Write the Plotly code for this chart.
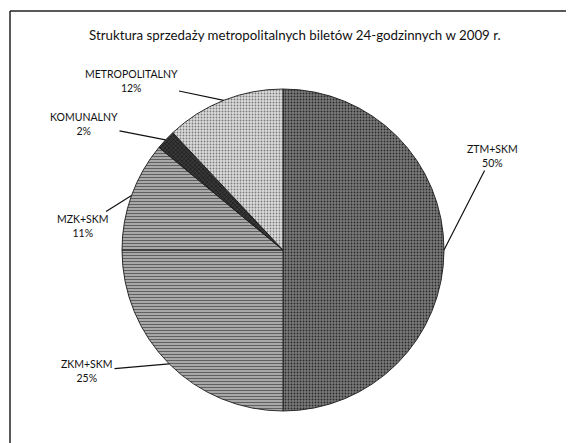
import numpy as np
import plotly.graph_objects as go

# dane z wykresu
labels = ['ZTM+SKM', 'ZKM+SKM', 'MZK+SKM', 'KOMUNALNY', 'METROPOLITALNY']
shares = [50, 25, 11, 2, 12]
colors = ['#7a7a7a', '#a8a8a8', '#a8a8a8', '#383838', '#dcdcdc']
dots = ['#2a2a2a', '#585858', '#585858', '#0e0e0e', '#7a7a7a']
fills = ['.', '-', '-', 'x', '.']

OFF = 8  # margines strony w przegladarce
W, H = 574 - OFF, 443 - OFF
# polozenie kola (piksele)
cx, cy, r = 283 - OFF, 250 - OFF, 161

# pozycje etykiet (srodek tekstu, piksele)
label_pos = {
    'ZTM+SKM': (492, 156),
    'ZKM+SKM': (87, 371),
    'MZK+SKM': (83, 226),
    'KOMUNALNY': (84, 124),
    'METROPOLITALNY': (131, 81),
}

fig = go.Figure(go.Pie(
    labels=labels,
    values=shares,
    sort=False,
    direction='clockwise',
    rotation=0,
    textinfo='none',
    hoverinfo='label+percent',
    showlegend=False,
    domain=dict(x=[(cx - r) / W, (cx + r) / W], y=[1 - (cy + r) / H, 1 - (cy - r) / H]),
    marker=dict(
        colors=colors,
        line=dict(color='#1a1a1a', width=0.9),
        pattern=dict(shape=fills, fgcolor=dots, bgcolor=colors, size=3, solidity=0.3),
    ),
))

# etykiety z liniami odniesienia, liczone z udzialow
total = sum(shares)
cum = 0
annotations = []
for lab, v in zip(labels, shares):
    mid = (cum + v / 2) / total * 2 * np.pi
    cum += v
    px_ = cx + r * np.sin(mid)
    py_ = cy - r * np.cos(mid)
    tx, ty = label_pos[lab]
    tx, ty = tx - OFF, ty - OFF
    annotations.append(dict(
        x=px_ / W, y=1 - py_ / H, xref='paper', yref='paper',
        ax=tx - px_, ay=ty - py_, axref='pixel', ayref='pixel',
        text=f'{lab}<br>{round(v / total * 100)}%',
        showarrow=True, arrowhead=0, arrowwidth=1.2, arrowcolor='#111111',
        font=dict(family='Lato, Open Sans, sans-serif', size=10.5, color='#111111'),
        align='center',
    ))

annotations.append(dict(
    x=(295 - OFF) / W, y=1 - (25 - OFF) / H, xref='paper', yref='paper', showarrow=False,
    text='Struktura sprzedaży metropolitalnych biletów 24-godzinnych w 2009 r.',
    font=dict(family='Lato, Open Sans, sans-serif', size=13.3, color='#111111'),
))

fig.update_layout(
    width=W, height=H,
    margin=dict(l=0, r=0, t=0, b=0),
    paper_bgcolor='white',
    annotations=annotations,
    shapes=[
        dict(type='line', xref='paper', yref='paper', x0=(10 - OFF) / W, x1=1,
             y0=1 - (11 - OFF) / H, y1=1 - (11 - OFF) / H,
             line=dict(color='#222222', width=1.5)),
        dict(type='line', xref='paper', yref='paper', x0=(10 - OFF) / W, x1=(10 - OFF) / W,
             y0=1 - (11 - OFF) / H, y1=0,
             line=dict(color='#222222', width=1.5)),
    ],
)

fig.write_html("out.html")
